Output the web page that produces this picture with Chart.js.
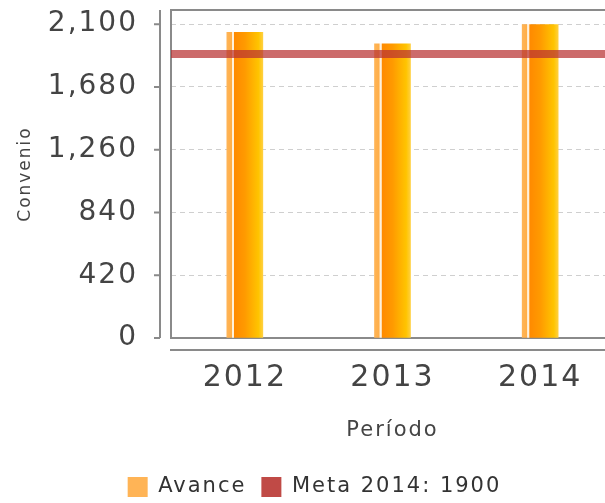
<!DOCTYPE html>
<html>
<head>
<meta charset="utf-8">
<script src="https://cdn.jsdelivr.net/npm/chart.js@4/dist/chart.umd.min.js"></script>
<style>
html,body{margin:0;padding:0;background:#fff;overflow:hidden;}
#wrap{width:605px;height:503px;overflow:hidden;position:relative;}
canvas{display:block;}
</style>
</head>
<body>
<div id="wrap"><canvas id="c" width="625" height="503"></canvas></div>
<script>
// ---- data ----
const years = ['2012', '2013', '2014'];
const avance = [2045, 1968, 2098];
const metaValue = 1900;
const metaLabel = 'Meta 2014: 1900';
const avanceLabel = 'Avance';
const yTickValues = [0, 420, 840, 1260, 1680, 2100];
const yMax = 2195;
const xTitle = 'Período';
const yTitle = 'Convenio';

const TEXT = '#444';
const AXIS = '#8a8a8a';
const FONT = 'DejaVu Sans';

const spacingPlugin = {
  id: 'spacing',
  beforeLayout(c) { c.ctx.letterSpacing = '2px'; },
  beforeDraw(c) { c.ctx.letterSpacing = '2px'; }
};

const framePlugin = {
  id: 'frame',
  beforeDatasetsDraw(c) {
    const ctx = c.ctx, a = c.chartArea, ys = c.scales.y;
    ctx.save();
    ctx.strokeStyle = AXIS;
    ctx.lineWidth = 2;
    ctx.beginPath();
    ctx.moveTo(a.right, a.top);
    ctx.lineTo(a.left, a.top);
    ctx.lineTo(a.left, a.bottom);
    ctx.lineTo(a.right, a.bottom);
    ctx.stroke();
    const ax = a.left - 11;
    ctx.beginPath();
    ctx.moveTo(ax, a.top);
    ctx.lineTo(ax, a.bottom);
    yTickValues.forEach(v => {
      const py = ys.getPixelForValue(v);
      ctx.moveTo(ax - 6, py);
      ctx.lineTo(ax, py);
    });
    ctx.stroke();
    const by = a.bottom + 12;
    ctx.beginPath();
    ctx.moveTo(a.left - 1, by);
    ctx.lineTo(a.right, by);
    ctx.stroke();
    ctx.restore();
  }
};

function barFill(context) {
  if (context.type !== 'data') return '#FF8C00';
  const chart = context.chart;
  if (!chart.chartArea) return '#FF8C00';
  const cx = chart.scales.x.getPixelForValue(context.dataIndex);
  if (!isFinite(cx)) return '#FF8C00';
  const w = 36;
  const g = chart.ctx.createLinearGradient(cx - w / 2, 0, cx + w / 2, 0);
  g.addColorStop(0, '#FFB456');
  g.addColorStop(0.13, '#FFAE48');
  g.addColorStop(0.15, '#FFF1DC');
  g.addColorStop(0.19, '#FFF1DC');
  g.addColorStop(0.21, '#FF8A00');
  g.addColorStop(0.5, '#FF9A00');
  g.addColorStop(0.88, '#FFC400');
  g.addColorStop(1, '#FFD040');
  return g;
}

new Chart(document.getElementById('c'), {
  type: 'bar',
  data: {
    labels: years,
    datasets: [
      {
        type: 'bar',
        label: avanceLabel,
        data: avance,
        backgroundColor: barFill,
        borderWidth: 0,
        barThickness: 36,
        grouped: false,
        order: 1,
        xAxisID: 'x',
        yAxisID: 'y'
      },
      {
        type: 'line',
        label: metaLabel,
        data: [{x: 0, y: metaValue}, {x: 1, y: metaValue}],
        borderColor: 'rgba(185,50,50,0.72)',
        backgroundColor: '#C04A46',
        borderWidth: 8,
        pointRadius: 0,
        fill: false,
        clip: false,
        order: 0,
        xAxisID: 'xLine',
        yAxisID: 'y'
      }
    ]
  },
  options: {
    responsive: false,
    animation: false,
    events: [],
    layout: { padding: { top: 10, right: 11, bottom: -4.5, left: 15 } },
    plugins: {
      tooltip: { enabled: false },
      legend: {
        position: 'bottom',
        labels: {
          font: { family: FONT, size: 21 },
          color: '#333',
          boxWidth: 20,
          boxHeight: 20,
          padding: 15,
          sort: (a, b) => a.datasetIndex - b.datasetIndex,
          generateLabels: chart => Chart.defaults.plugins.legend.labels.generateLabels(chart).map(it => {
            it.lineWidth = 0;
            it.strokeStyle = it.fillStyle;
            return it;
          })
        }
      }
    },
    scales: {
      x: {
        type: 'category',
        offset: true,
        grid: { display: false, drawTicks: false },
        border: { display: false },
        ticks: {
          font: { family: FONT, size: 30 },
          color: TEXT,
          padding: 22,
          maxRotation: 0
        },
        title: {
          display: true,
          text: xTitle,
          font: { family: FONT, size: 21 },
          color: TEXT,
          padding: { top: 0, bottom: 17.9 }
        },
        afterFit: s => { s.height = 123.5; }
      },
      xLine: {
        type: 'linear',
        display: false,
        offset: false,
        min: 0,
        max: 1
      },
      y: {
        type: 'linear',
        min: 0,
        max: yMax,
        grid: {
          drawTicks: false,
          lineWidth: 1,
          color: ctx => (ctx.tick && ctx.tick.value > 0 && yTickValues.includes(ctx.tick.value)) ? '#cfcfcf' : 'rgba(0,0,0,0)'
        },
        border: { display: false, dash: [5, 4] },
        afterBuildTicks: s => { s.ticks = yTickValues.map(v => ({ value: v })); },
        ticks: {
          autoSkip: false,
          padding: 33,
          font: { family: FONT, size: 28 },
          color: TEXT,
          callback: v => v.toLocaleString('en-US')
        },
        title: {
          display: true,
          text: yTitle,
          font: { family: FONT, size: 17 },
          color: TEXT,
          padding: { top: 0.8, bottom: 0 }
        },
        afterFit: s => { s.width = 156; s.paddingTop = 0; s.paddingBottom = 0; }
      }
    }
  },
  plugins: [spacingPlugin, framePlugin]
});
</script>
</body>
</html>
